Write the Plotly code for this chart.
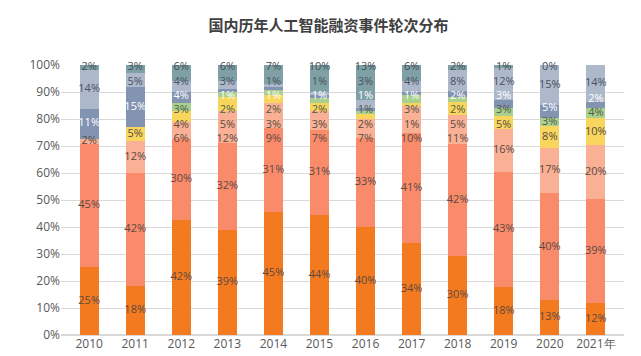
import plotly.graph_objects as go

years = ["2010", "2011", "2012", "2013", "2014", "2015", "2016", "2017", "2018", "2019", "2020", "2021年"]

# stacked from bottom to top (percent of events)
s1 = [25, 18, 42, 39, 45, 44, 40, 34, 30, 18, 13, 12]
s2 = [45, 42, 30, 32, 31, 31, 33, 41, 42, 43, 40, 39]
s3 = [2, 12, 6, 12, 9, 7, 7, 10, 11, 16, 17, 20]
s4 = [0, 5, 4, 5, 3, 3, 2, 1, 5, 5, 8, 10]
s5 = [0, 0, 3, 2, 2, 2, 1, 3, 2, 3, 3, 4]
s6 = [11, 15, 4, 1, 1, 1, 1, 1, 2, 3, 5, 2]
s7 = [14, 5, 4, 3, 1, 1, 3, 4, 8, 12, 15, 14]
s8 = [2, 3, 6, 6, 7, 10, 13, 6, 2, 1, 0, 0]

series = [s1, s2, s3, s4, s5, s6, s7, s8]
colors = ["#F47A1F", "#F98B6B", "#F9B095", "#F8D65E", "#A9D08E", "#8394B2", "#ADB9CB", "#7FA1A6"]
text_colors = ["#5A4A42", "#5A4A42", "#5A4A42", "#5A4A42", "#4F5A48", "#FFFFFF", "#4A5160", "#3F4E55"]

# which labels are shown: zero bands are unlabeled except 2020's top band
def shown(i, j):
    v = series[i][j]
    if v == 0:
        return i == 7 and j == 10
    return True

fig = go.Figure()
for i, vals in enumerate(series):
    fig.add_trace(go.Bar(
        x=years, y=vals,
        marker=dict(color=colors[i], line=dict(width=0)),
        showlegend=False, hoverinfo="skip",
    ))

# label positions: band centres (normalised to 100%), nudged apart so they do not collide
GAP = 5.3
TOP = 99.0
label_y = [[None] * len(years) for _ in series]
for j in range(len(years)):
    total = sum(s[j] for s in series)
    cum = 0.0
    items = []
    for i, s in enumerate(series):
        centre = (cum + s[j] / 2) / total * 100
        cum += s[j]
        if shown(i, j):
            items.append([i, centre])
    for k in range(1, len(items)):
        items[k][1] = max(items[k][1], items[k - 1][1] + GAP)
    items[-1][1] = min(items[-1][1], TOP)
    for k in range(len(items) - 2, -1, -1):
        items[k][1] = min(items[k][1], items[k + 1][1] - GAP)
    for i, yv in items:
        label_y[i][j] = yv

for i, vals in enumerate(series):
    xs, ys, ts = [], [], []
    for j, v in enumerate(vals):
        if label_y[i][j] is not None:
            xs.append(years[j]); ys.append(label_y[i][j]); ts.append(f"{v}%")
    fig.add_trace(go.Scatter(
        x=xs, y=ys, text=ts, mode="text",
        textfont=dict(color=text_colors[i], size=11, family="Open Sans"),
        cliponaxis=False, showlegend=False, hoverinfo="skip",
    ))

fig.update_layout(
    width=641, height=356,
    barmode="stack", barnorm="percent", bargap=0.59,
    plot_bgcolor="white", paper_bgcolor="white",
    margin=dict(l=53, r=25, t=57, b=29),
    font=dict(family="Open Sans", color="#595959", size=12),
    title=dict(text="<b>国内历年人工智能融资事件轮次分布</b>", x=0.5, xanchor="center",
               y=0.95, yanchor="middle",
               font=dict(family="Noto Sans CJK SC", size=15, color="#404040")),
    xaxis=dict(showgrid=False, showline=False, ticks="", tickfont=dict(size=12, color="#595959")),
    yaxis=dict(range=[0, 100], dtick=10, ticksuffix="%", showgrid=True, gridcolor="#D9D9D9",
               zeroline=True, zerolinecolor="#D9D9D9", showline=False, ticks="",
               tickfont=dict(size=12, color="#595959")),
)

fig.write_html("out.html")
